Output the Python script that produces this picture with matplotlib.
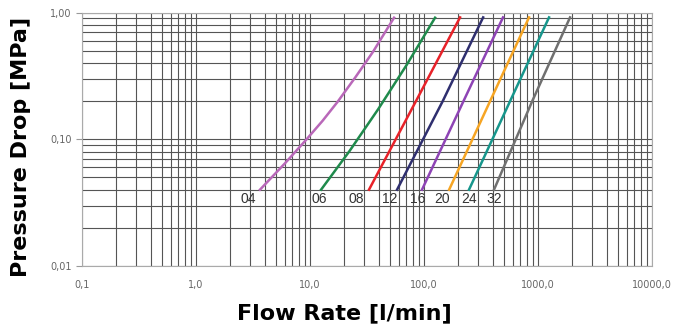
import numpy as np
import matplotlib
matplotlib.use('Agg')
import matplotlib.pyplot as plt
from matplotlib.ticker import LogLocator, NullFormatter

# curve data: flow rate [l/min] vs pressure drop [MPa]
sizes = ['04', '06', '08', '12', '16', '20', '24', '32']
flow = [
    [3.64, 6.03, 9.29, 12.9, 17.5, 25.1, 35.7, 54.6],
    [12.5, 22.2, 39.5, 70.3, 125.0],
    [32.9, 85.0, 207.0],
    [58.0, 146.0, 330.0],
    [96.0, 222.0, 493.0],
    [166.0, 380.0, 834.0],
    [248.0, 569.0, 1249.0],
    [411.0, 890.0, 1909.0],
]
pressure = [
    [0.04, 0.0646, 0.0995, 0.140, 0.198, 0.31, 0.49, 0.91],
    [0.04, 0.0807, 0.172, 0.385, 0.91],
    [0.04, 0.20, 0.915],
    [0.04, 0.20, 0.915],
    [0.04, 0.20, 0.915],
    [0.04, 0.20, 0.915],
    [0.04, 0.20, 0.915],
    [0.04, 0.20, 0.915],
]
colors = ['#b968b9', '#1f8a4c', '#e82229', '#2f2f6f', '#8e44b5',
          '#f6a524', '#17968c', '#707070']
label_x = [2.86, 12.1, 25.3, 50.3, 88.6, 144.0, 248.0, 411.0]
label_y = 0.034

xticks = [0.1, 1, 10, 100, 1000, 10000]
xticklabels = ['0,1', '1,0', '10,0', '100,0', '1000,0', '10000,0']
yticks = [0.01, 0.1, 1.0]
yticklabels = ['0,01', '0,10', '1,00']

fig = plt.figure(figsize=(6.74, 3.29), dpi=100)
ax = fig.add_axes([0.1217, 0.1915, 0.8457, 0.7705])
ax.set_xscale('log')
ax.set_yscale('log')
ax.set_xlim(0.1, 10000)
ax.set_ylim(0.01, 1.0)

ax.xaxis.set_minor_locator(LogLocator(base=10, subs=np.arange(2, 10)))
ax.yaxis.set_minor_locator(LogLocator(base=10, subs=np.arange(2, 10)))
ax.xaxis.set_minor_formatter(NullFormatter())
ax.yaxis.set_minor_formatter(NullFormatter())
ax.grid(True, which='both', color='#555555', lw=0.8)
ax.set_axisbelow(True)

for i in range(len(sizes)):
    ax.plot(flow[i], pressure[i], color=colors[i], lw=1.8, zorder=3)
    ax.text(label_x[i], label_y, sizes[i], ha='center', va='center',
            fontsize=10, color='#333333', family='Liberation Sans', zorder=4)

ax.set_xticks(xticks)
ax.set_xticklabels(xticklabels)
ax.set_yticks(yticks)
ax.set_yticklabels(yticklabels)
ax.tick_params(which='major', length=4, color='#999999', labelsize=7,
               labelcolor='#666666')
ax.tick_params(axis='x', which='major', length=0, pad=10)
ax.tick_params(which='minor', length=0)
for s in ax.spines.values():
    s.set_color('#aaaaaa')
    s.set_linewidth(0.8)

ax.set_xlabel('Flow Rate [l/min]', fontsize=16, fontweight='bold')
ax.set_ylabel('Pressure Drop [MPa]', fontsize=16, fontweight='bold')
ax.xaxis.set_label_coords(0.46, -0.146)
ax.yaxis.set_label_coords(-0.09, 0.469)

fig.savefig('out.png', dpi=100)
